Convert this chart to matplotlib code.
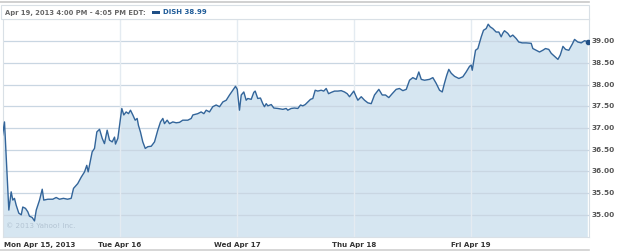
import matplotlib.pyplot as plt
from matplotlib.patches import Rectangle

# time in trading days since Mon open, price in USD
t_day = [
    0.000, 0.017, 0.054, 0.074, 0.088, 0.102, 0.117, 0.139, 0.160, 0.173,
    0.196, 0.216, 0.230, 0.253, 0.273, 0.288, 0.316, 0.339, 0.352, 0.387,
    0.429, 0.458, 0.486, 0.520, 0.555, 0.586, 0.606, 0.642, 0.672, 0.700,
    0.719, 0.731, 0.765, 0.785, 0.805, 0.828, 0.851, 0.870, 0.893, 0.913,
    0.936, 0.956, 0.964, 0.984, 1.018, 1.035, 1.055, 1.075, 1.092, 1.112,
    1.132, 1.149, 1.160, 1.177, 1.197, 1.218, 1.240, 1.269, 1.297, 1.325,
    1.348, 1.368, 1.382, 1.405, 1.425, 1.453, 1.482, 1.510, 1.538, 1.581,
    1.610, 1.624, 1.666, 1.695, 1.718, 1.738, 1.766, 1.794, 1.823, 1.852,
    1.880, 1.909, 1.937, 1.965, 1.988, 2.003, 2.022, 2.037, 2.059, 2.079,
    2.093, 2.122, 2.144, 2.156, 2.178, 2.201, 2.221, 2.235, 2.250, 2.264,
    2.293, 2.315, 2.349, 2.392, 2.421, 2.434, 2.463, 2.491, 2.520, 2.543,
    2.562, 2.583, 2.605, 2.628, 2.648, 2.668, 2.690, 2.719, 2.741, 2.762,
    2.782, 2.805, 2.833, 2.861, 2.890, 2.918, 2.941, 2.961, 2.980, 2.997,
    3.018, 3.032, 3.061, 3.089, 3.117, 3.146, 3.174, 3.211, 3.240, 3.268,
    3.296, 3.325, 3.359, 3.387, 3.416, 3.445, 3.473, 3.501, 3.530, 3.552,
    3.573, 3.601, 3.643, 3.672, 3.700, 3.729, 3.752, 3.771, 3.791, 3.808,
    3.829, 3.857, 3.894, 3.928, 3.956, 3.985, 3.999, 4.008, 4.036, 4.056,
    4.085, 4.104, 4.127, 4.144, 4.161, 4.183, 4.212, 4.235, 4.255, 4.268,
    4.283, 4.311, 4.332, 4.354, 4.383, 4.405, 4.434, 4.468, 4.511, 4.525,
    4.554, 4.582, 4.610, 4.633, 4.661, 4.682, 4.710, 4.739, 4.759, 4.782,
    4.804, 4.832, 4.861, 4.881, 4.909, 4.938, 4.966, 4.994,
]
price = [
    36.83, 37.14, 35.11, 35.53, 35.34, 35.38, 35.22, 35.04, 35.00, 35.18,
    35.15, 35.07, 34.97, 34.94, 34.86, 35.11, 35.34, 35.59, 35.34, 35.36,
    35.36, 35.40, 35.36, 35.38, 35.36, 35.38, 35.61, 35.72, 35.87, 35.99,
    36.14, 35.99, 36.45, 36.53, 36.91, 36.97, 36.76, 36.64, 36.95, 36.72,
    36.68, 36.79, 36.63, 36.76, 37.45, 37.30, 37.37, 37.33, 37.41, 37.30,
    37.18, 37.22, 37.06, 36.91, 36.68, 36.53, 36.57, 36.58, 36.68, 36.95,
    37.14, 37.22, 37.10, 37.18, 37.10, 37.14, 37.12, 37.13, 37.18, 37.18,
    37.22, 37.30, 37.33, 37.37, 37.33, 37.41, 37.37, 37.49, 37.53, 37.49,
    37.60, 37.64, 37.76, 37.87, 37.96, 37.89, 37.41, 37.76, 37.83, 37.64,
    37.68, 37.66, 37.82, 37.85, 37.68, 37.69, 37.56, 37.49, 37.56, 37.51,
    37.54, 37.46, 37.45, 37.43, 37.45, 37.41, 37.45, 37.46, 37.45, 37.53,
    37.51, 37.54, 37.60, 37.66, 37.68, 37.87, 37.85, 37.87, 37.85, 37.91,
    37.79, 37.82, 37.85, 37.85, 37.86, 37.83, 37.79, 37.72, 37.79, 37.85,
    37.72, 37.64, 37.72, 37.64, 37.58, 37.56, 37.76, 37.89, 37.76, 37.76,
    37.70, 37.79, 37.89, 37.91, 37.86, 37.89, 38.10, 38.16, 38.12, 38.29,
    38.12, 38.10, 38.12, 38.16, 38.03, 37.87, 37.83, 38.03, 38.22, 38.35,
    38.26, 38.19, 38.14, 38.18, 38.29, 38.42, 38.45, 38.33, 38.79, 38.83,
    39.10, 39.25, 39.29, 39.39, 39.33, 39.29, 39.21, 39.21, 39.10, 39.18,
    39.24, 39.18, 39.10, 39.14, 39.06, 38.98, 38.96, 38.96, 38.95, 38.83,
    38.79, 38.75, 38.79, 38.83, 38.81, 38.72, 38.65, 38.58, 38.68, 38.88,
    38.81, 38.79, 38.93, 39.04, 38.98, 38.96, 39.01, 38.99,
]

day_ticks = [0, 1, 2, 3, 4]
day_labels = ["Mon Apr 15, 2013", "Tue Apr 16", "Wed Apr 17", "Thu Apr 18", "Fri Apr 19"]
price_ticks = [35.0, 35.5, 36.0, 36.5, 37.0, 37.5, 38.0, 38.5, 39.0]

header = "Apr 19, 2013 4:00 PM - 4:05 PM EDT:"
legend_text = "DISH 38.99"

W, H = 625, 252
fig = plt.figure(figsize=(W / 100, H / 100), dpi=100)
fig.patch.set_facecolor("white")

# plot area in pixel coords
left, right, top, bottom = 2.5, 588.5, 19, 237
ax = fig.add_axes([left / W, 1 - bottom / H, (right - left) / W, (bottom - top) / H])

line_c = "#33659a"
fill_c = "#d6e6f1"
ymin, ymax = 34.49, 39.51

ax.fill_between(t_day, price, 30, color=fill_c, lw=0, zorder=1)
for p in price_ticks:
    ax.axhline(p, color="#c9d6e2", lw=0.9, zorder=2)
for d in day_ticks[1:]:
    ax.axvline(d, color="#e4ebf1", lw=1.0, zorder=2)
ax.plot(t_day, price, color=line_c, lw=1.0, zorder=3)
ax.plot(t_day[-1], price[-1], marker="o", ms=3, color="#1f4f86", zorder=4)

ax.set_xlim(0, 5)
ax.set_ylim(ymin, ymax)
ax.set_xticks([])
ax.set_yticks([])
for s in ax.spines.values():
    s.set_color("#d9e0e6")
    s.set_linewidth(0.8)


def fx(x):
    return x / W


def fy(y):
    return 1 - y / H


# y labels on right
for p in price_ticks:
    ax.text(1.005, (p - ymin) / (ymax - ymin), f"{p:.2f}", transform=ax.transAxes,
            ha="left", va="center", fontsize=5.3, fontweight="bold", color="#555555")

# date labels, first one left aligned
for d, lab in zip(day_ticks, day_labels):
    ha = "left" if d == 0 else "center"
    xpos = 0.003 if d == 0 else d / 5
    fig.text(fx(left + xpos * (right - left)), fy(244.5), lab, ha=ha, va="center",
             fontsize=5.1, fontweight="bold", color="#333333")

# watermark
ax.text(0.006, 0.035, "\u00a9 2013 Yahoo! Inc.", transform=ax.transAxes, ha="left",
        va="bottom", fontsize=5.2, color="#b3c4d3", zorder=5)

# header strip and frame lines
fig.add_artist(Rectangle((fx(1), fy(19)), fx(587.5), 14 / H, transform=fig.transFigure,
                         facecolor="white", edgecolor="#d9e0e6", lw=0.8))
fig.add_artist(plt.Line2D([0, fx(588.5)], [fy(1.5), fy(1.5)], transform=fig.transFigure,
                          color="#c8c8c8", lw=1.2))
fig.add_artist(plt.Line2D([0, fx(588.5)], [fy(249.5), fy(249.5)], transform=fig.transFigure,
                          color="#d0d0d0", lw=1.2))
fig.text(fx(5), fy(12.5), header, ha="left", va="center", fontsize=4.85,
         fontweight="bold", color="#666666")
fig.add_artist(Rectangle((fx(152), fy(14)), 8 / W, 3 / H, transform=fig.transFigure,
                         facecolor="#1f4f86", edgecolor="none"))
fig.text(fx(163), fy(12.5), legend_text, ha="left", va="center", fontsize=5.0,
         fontweight="bold", color="#1f5c99")

fig.savefig("out.png", dpi=100)
